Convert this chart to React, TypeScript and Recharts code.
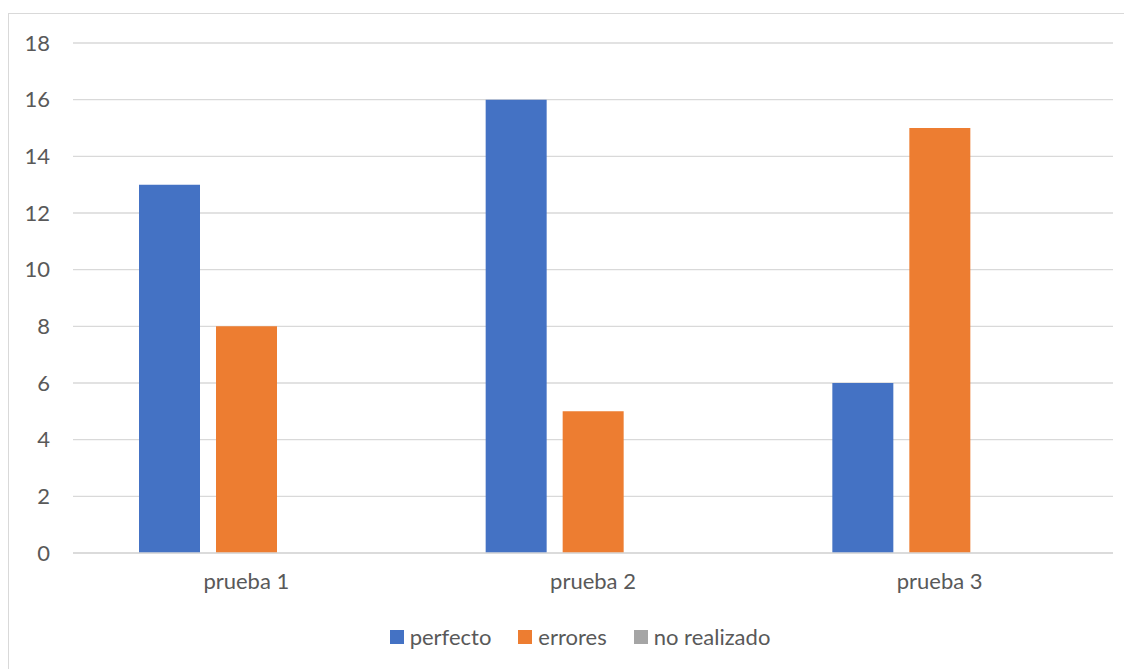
import React from "react";
import { BarChart, Bar, XAxis, YAxis, CartesianGrid, Legend } from "recharts";

const categories = ["prueba 1", "prueba 2", "prueba 3"];
const perfecto = [13, 16, 6];
const errores = [8, 5, 15];
const noRealizado = [0, 0, 0];
const yTicks = [0, 2, 4, 6, 8, 10, 12, 14, 16, 18];

const seriesNames = ["perfecto", "errores", "no realizado"];
const seriesColors = ["#4472C4", "#ED7D31", "#A5A5A5"];

const data = categories.map((c, i) => ({
  name: c,
  perfecto: perfecto[i],
  errores: errores[i],
  "no realizado": noRealizado[i],
}));

const FONT = "Lato, 'Open Sans', sans-serif";
const TEXT = "#595959";

const LegendContent = () => (
  <div style={{ display: "flex", justifyContent: "center", alignItems: "center", fontFamily: FONT, fontSize: 22, color: TEXT, lineHeight: "24px" }}>
    {seriesNames.map((n, i) => (
      <div key={n} style={{ display: "flex", alignItems: "center", marginRight: i < seriesNames.length - 1 ? 27 : 0 }}>
        <span style={{ display: "inline-block", width: 14, height: 14, background: seriesColors[i], marginRight: 6 }} />
        <span>{n}</span>
      </div>
    ))}
  </div>
);

export default function App() {
  return (
    <div style={{ position: "relative", width: 1124, height: 661, overflow: "hidden" }}>
      <div
        style={{
          position: "absolute",
          left: 0,
          top: 5,
          width: 1200,
          height: 700,
          borderLeft: "1.5px solid #d9d9d9",
          borderTop: "1.5px solid #d9d9d9",
          boxSizing: "border-box",
        }}
      />
      <div style={{ position: "absolute", left: 0, top: 0 }}>
        <BarChart
          width={1124}
          height={661}
          data={data}
          margin={{ top: 35, right: 19, left: 0, bottom: 86 }}
          barSize={61}
          barGap={16}
        >
          <CartesianGrid vertical={false} stroke="#d9d9d9" strokeWidth={1.3} />
          <XAxis
            dataKey="name"
            height={30}
            axisLine={{ stroke: "#d9d9d9", strokeWidth: 1.3 }}
            tickLine={false}
            tickMargin={14}
            tick={{ fill: TEXT, fontSize: 22, fontFamily: FONT }}
          />
          <YAxis
            width={65}
            domain={[0, 18]}
            ticks={yTicks}
            axisLine={false}
            tickLine={false}
            tickMargin={17}
            tick={{ fill: TEXT, fontSize: 22, fontFamily: FONT }}
          />
          <Legend
            verticalAlign="middle"
            layout="horizontal"
            content={<LegendContent />}
            wrapperStyle={{ top: 617, left: 10, width: 1124 }}
          />
          {seriesNames.map((n, i) => (
            <Bar key={n} dataKey={n} fill={seriesColors[i]} isAnimationActive={false} />
          ))}
        </BarChart>
      </div>
    </div>
  );
}
